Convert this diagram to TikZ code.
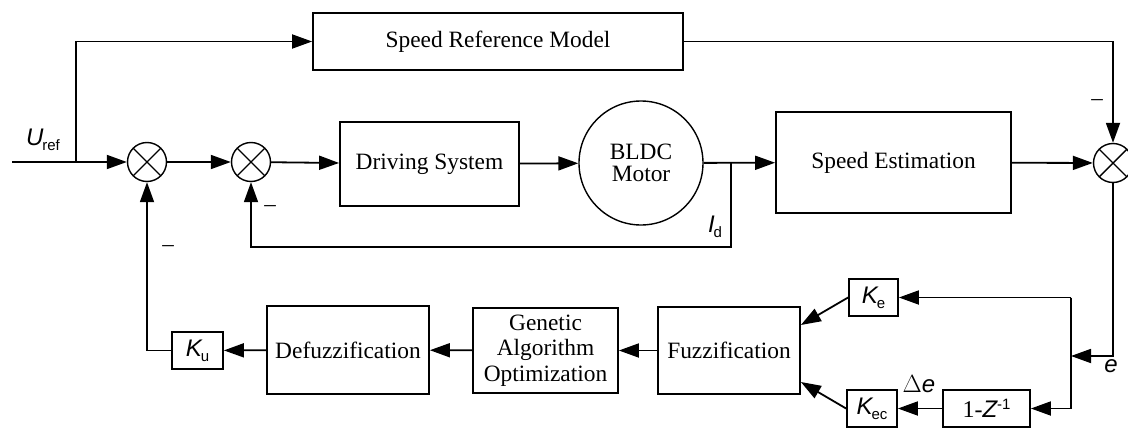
\documentclass[tikz,border=0pt]{standalone}
\usepackage{fontspec}
\setmainfont{Liberation Serif}
\newfontfamily\lbl{Liberation Sans}
\usetikzlibrary{arrows.meta}
% italic variable with an upright subscript
\newcommand{\kvar}[2]{{\lbl\itshape #1}\kern-1pt{\lbl\fontsize{15}{15}\selectfont\raisebox{-5pt}{#2}}}
\begin{document}
\begin{tikzpicture}[x=1pt,y=-1pt,
  line width=1.8pt,
  >={Triangle[length=20pt,width=14pt]},
  block/.style={draw, rectangle, inner sep=0pt, align=center,
    font=\fontsize{23.4}{25.5}\selectfont},
  gain/.style={draw, rectangle, inner sep=0pt, minimum height=37pt,
    font=\fontsize{24}{24}\selectfont},
  summer/.style={draw, circle, inner sep=0pt, minimum size=39pt, line width=1.4pt,
    path picture={
      \draw[line width=1.4pt] (path picture bounding box.north west) -- (path picture bounding box.south east)
        (path picture bounding box.north east) -- (path picture bounding box.south west);}},
  varlabel/.style={inner sep=0pt, font=\fontsize{24}{24}\selectfont},
  minus/.style={inner sep=0pt, font=\fontsize{23}{23}\selectfont}]
\useasboundingbox (0,0) rectangle (1128,428);

% forward path
\node[block, minimum width=370pt, minimum height=57pt] (srm) at (498,41.5) {Speed Reference Model};
\node[summer] (s1) at (147,162) {};
\node[summer] (s2) at (251,162) {};
\node[block, minimum width=179pt, minimum height=84pt] (drv) at (429.5,164) {Driving System};
\node[block, circle, minimum size=124pt, line width=1.4pt] (motor) at (641,163) {BLDC\\[-3pt]Motor};
\node[block, minimum width=235pt, minimum height=101pt] (se) at (893.5,162.5) {Speed Estimation};
\node[summer] (s3) at (1113,163) {};

% fuzzy controller
\node[gain, minimum width=49pt] (ke) at (873.5,297.5) {\kvar{K}{e}};
\node[gain, minimum width=50pt] (kec) at (872,408.5) {\kvar{K}{ec}};
\node[gain, minimum width=87pt] (dz) at (986.5,408.5) {1-{\lbl\itshape Z}{\lbl\fontsize{15}{15}\selectfont\raisebox{8pt}{-1}}};
\node[block, minimum width=142pt, minimum height=87pt] (fuzz) at (729,350.5) {Fuzzification};
\node[block, minimum width=145pt, minimum height=85pt] (ga) at (545.5,350.5) {Genetic\\Algorithm\\Optimization};
\node[block, minimum width=162pt, minimum height=88pt] (defuzz) at (348,350) {Defuzzification};
\node[gain, minimum width=51pt] (ku) at (197.5,350.5) {\kvar{K}{u}};

% labels
\node[varlabel] (uref) at (43,140) {\kvar{U}{ref}};
\node[varlabel] (id) at (715,227) {\kvar{I}{d}};
\node[varlabel] (elbl) at (1111,366) {{\lbl\itshape e}};
\node[varlabel] (delbl) at (919,384) {$\Delta${\lbl\itshape e}};
\node[minus] (m1) at (168,249) {–};
\node[minus] (m2) at (270,209) {–};
\node[minus] (m3) at (1097,103) {–};

% junctions
\coordinate (in) at (12,162);
\coordinate (tap) at (76,162);
\coordinate (itap) at (731,162);
\coordinate (split) at (1071,356);

% connectors
\draw[->] (in) -- (s1);
\draw[->] (tap) |- (srm);
\draw[->] (s1) -- (s2);
\draw[->] (s2) -- (drv);
\draw[->] (drv) -- (motor);
\draw[->] (motor) -- (se);
\draw[->] (itap) -- (731,247) -| (s2);
\draw[->] (se) -- (s3);
\draw[->] (srm) -| (s3);
\draw[->] (s3) |- (split);
\draw (split |- ke) -- (split |- dz);
\draw[->] (split |- ke) -- (ke);
\draw[->] (split |- dz) -- (dz);
\draw[->] (dz) -- (kec);
\draw[->] (ke.west) -- (fuzz.east |- 0,325);
\draw[->] (kec.west) -- (fuzz.east |- 0,382);
\draw[->] (fuzz) -- (ga);
\draw[->] (ga) -- (defuzz);
\draw[->] (defuzz) -- (ku);
\draw[->] (ku) -| (s1);
\end{tikzpicture}
\end{document}
